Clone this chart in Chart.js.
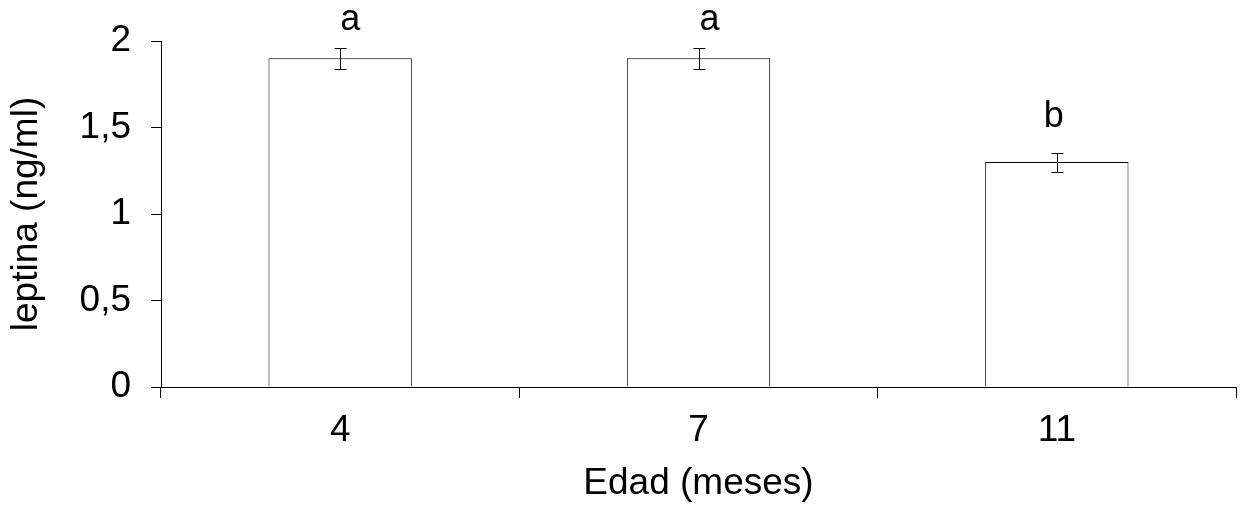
<!DOCTYPE html>
<html><head><meta charset="utf-8">
<script src="https://cdn.jsdelivr.net/npm/chart.js@4/dist/chart.umd.min.js"></script>
<style>html,body{margin:0;padding:0;background:#fff}</style>
</head><body>
<canvas id="c" width="1243" height="510"></canvas>
<script>
const categories = ['4', '7', '11'];
const leptina = [1.9, 1.9, 1.3];
const errors = [0.06, 0.06, 0.055];
const letters = ['a', 'a', 'b'];
const yTicks = [0, 0.5, 1, 1.5, 2];

const FONT = "'Liberation Sans', Arial, sans-serif";
const FS = 37;
const letterOffsets = [{dx: 10, dy: -19}, {dx: 11, dy: -19}, {dx: -3, dy: -27}];

const errorPlugin = {
  id: 'errs',
  afterDatasetsDraw(chart) {
    const ctx = chart.ctx;
    const meta = chart.getDatasetMeta(0);
    const y = chart.scales.y;
    ctx.save();
    ctx.strokeStyle = '#000';
    ctx.lineWidth = 1;
    meta.data.forEach((bar, i) => {
      const x = Math.round(bar.x) + 0.5;
      const yt = Math.round(y.getPixelForValue(leptina[i] + errors[i])) + 0.5;
      const yb = Math.round(y.getPixelForValue(leptina[i] - errors[i])) + 0.5;
      ctx.beginPath();
      ctx.moveTo(x, yt); ctx.lineTo(x, yb);
      ctx.moveTo(x - 6, yt); ctx.lineTo(x + 6, yt);
      ctx.moveTo(x - 6, yb); ctx.lineTo(x + 6, yb);
      ctx.stroke();
      ctx.fillStyle = '#000';
      ctx.font = '36px ' + FONT;
      ctx.textAlign = 'center';
      ctx.textBaseline = 'alphabetic';
      const o = letterOffsets[i];
      ctx.fillText(letters[i], bar.x + o.dx, yt + o.dy);
    });
    ctx.restore();
  }
};

new Chart(document.getElementById('c'), {
  type: 'bar',
  data: {
    labels: categories,
    datasets: [{
      data: leptina,
      backgroundColor: '#fff',
      borderColor: '#000',
      borderWidth: 1,
      barPercentage: 0.4,
      categoryPercentage: 1
    }]
  },
  options: {
    responsive: false,
    animation: false,
    devicePixelRatio: 1,
    layout: {padding: {top: 41, right: 7, left: 0, bottom: 0}},
    plugins: {legend: {display: false}, tooltip: {enabled: false}},
    scales: {
      x: {
        offset: true,
        grid: {offset: true, drawOnChartArea: false, drawTicks: true, tickLength: 11, color: '#000'},
        border: {display: true, color: '#000', width: 1},
        ticks: {color: '#000', font: {family: FONT, size: FS}, padding: 11, maxRotation: 0},
        title: {display: true, text: 'Edad (meses)', color: '#000', font: {family: FONT, size: FS}, padding: {top: 0, bottom: 4}},
        afterFit(s) { s.height = 123; s.paddingLeft = 0; s.paddingRight = 0; }
      },
      y: {
        min: 0, max: 2,
        afterBuildTicks(s) { s.ticks = yTicks.map(v => ({value: v})); },
        grid: {drawOnChartArea: false, drawTicks: true, tickLength: 10, color: '#000'},
        border: {display: true, color: '#000', width: 1},
        ticks: {color: '#000', font: {family: FONT, size: FS}, padding: 20, callback: v => String(v).replace('.', ',')},
        title: {display: true, text: 'leptina (ng/ml)', color: '#000', font: {family: FONT, size: FS}, padding: {top: 5, bottom: 0}},
        afterFit(s) { s.width = 161; s.paddingTop = 0; s.paddingBottom = 0; }
      }
    }
  },
  plugins: [errorPlugin]
});
</script>
</body></html>
